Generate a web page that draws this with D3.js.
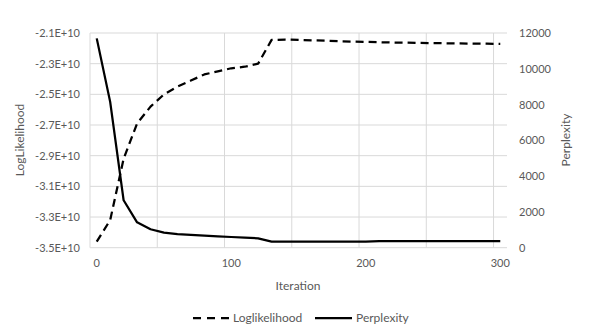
<!DOCTYPE html>
<html>
<head>
<meta charset="utf-8">
<script src="https://cdn.jsdelivr.net/npm/d3@7"></script>
<style>
  html, body { margin: 0; padding: 0; background: #fff; }
  svg { display: block; font-family: Lato, "Open Sans", sans-serif; }
</style>
</head>
<body>
<svg id="chart" width="601" height="336"></svg>
<script>
const iterations = [0, 10, 20, 30, 40, 50, 60, 70, 80, 90, 100, 110, 120, 130, 140, 150,
  160, 170, 180, 190, 200, 210, 220, 230, 240, 250, 260, 270, 280, 290, 300];
const logLikelihood = [-3.46e10, -3.32e10, -2.92e10, -2.69e10, -2.58e10, -2.50e10, -2.45e10,
  -2.41e10, -2.37e10, -2.35e10, -2.33e10, -2.32e10, -2.30e10, -2.145e10, -2.143e10, -2.145e10,
  -2.148e10, -2.150e10, -2.153e10, -2.156e10, -2.158e10, -2.160e10, -2.162e10, -2.163e10,
  -2.165e10, -2.166e10, -2.167e10, -2.168e10, -2.169e10, -2.170e10, -2.171e10];
const perplexity = [11700, 8150, 2650, 1420, 1030, 840, 760, 710, 676, 637, 598, 564, 525,
  335, 335, 335, 335, 335, 335, 335, 335, 370, 370, 370, 370, 370, 370, 370, 370, 370, 370];
const leftTicks = [-3.5e10, -3.3e10, -3.1e10, -2.9e10, -2.7e10, -2.5e10, -2.3e10, -2.1e10];
const rightTicks = [0, 2000, 4000, 6000, 8000, 10000, 12000];
const xLabelIters = [0, 100, 200, 300];
const gridIters = [0, 50, 100, 150, 200, 250, 300];
const seriesNames = ["Loglikelihood", "Perplexity"];

const svg = d3.select("#chart");
const pLeft = 90, pRight = 507, pTop = 33, pBottom = 247.7;
const textColor = "#595959", gridColor = "#d9d9d9";

const x = d3.scaleBand().domain(iterations).range([pLeft, pRight]).padding(0);
const yL = d3.scaleLinear().domain([-3.5e10, -2.1e10]).range([pBottom, pTop]);
const yR = d3.scaleLinear().domain([0, 12000]).range([pBottom, pTop]);

// horizontal gridlines
svg.append("g").selectAll("line").data(leftTicks).join("line")
  .attr("x1", pLeft).attr("x2", pRight)
  .attr("y1", d => yL(d)).attr("y2", d => yL(d))
  .attr("stroke", gridColor).attr("stroke-width", 1);
// vertical gridlines
svg.append("g").selectAll("line").data(gridIters).join("line")
  .attr("x1", d => x(d)).attr("x2", d => x(d))
  .attr("y1", pTop).attr("y2", pBottom)
  .attr("stroke", gridColor).attr("stroke-width", 1);

// left axis
const fmtL = d => (d / 1e10).toFixed(1) + "E+10";
const gL = svg.append("g").attr("transform", `translate(${pLeft - 10},0)`)
  .call(d3.axisLeft(yL).tickValues(leftTicks).tickFormat(fmtL).tickSize(0).tickPadding(0));
gL.select(".domain").remove();
gL.selectAll("text").attr("fill", textColor).style("font-size", "11px").style("font-family", "Lato");

// right axis
const gR = svg.append("g").attr("transform", `translate(${pRight + 12},0)`)
  .call(d3.axisRight(yR).tickValues(rightTicks).tickFormat(d3.format("d")).tickSize(0).tickPadding(0));
gR.select(".domain").remove();
gR.selectAll("text").attr("fill", textColor).style("font-size", "11px").style("font-family", "Lato");

// bottom axis
const gB = svg.append("g").attr("transform", `translate(0,${pBottom + 11})`)
  .call(d3.axisBottom(x).tickValues(xLabelIters).tickSize(0).tickPadding(0));
gB.select(".domain").remove();
gB.selectAll("text").attr("fill", textColor).style("font-size", "11px").style("font-family", "Lato");

// axis titles
svg.append("text").attr("transform", "translate(24,140) rotate(-90)")
  .attr("text-anchor", "middle").attr("fill", textColor)
  .style("font-size", "12px").text("LogLikelihood");
svg.append("text").attr("transform", "translate(570,140) rotate(-90)")
  .attr("text-anchor", "middle").attr("fill", textColor)
  .style("font-size", "12px").text("Perplexity");
svg.append("text").attr("x", 298).attr("y", 290)
  .attr("text-anchor", "middle").attr("fill", textColor)
  .style("font-size", "12px").text("Iteration");

// lines
const cx = d => x(d) + x.bandwidth() / 2;
const lineL = d3.line().x((d, i) => cx(iterations[i])).y(d => yL(d));
const lineR = d3.line().x((d, i) => cx(iterations[i])).y(d => yR(d));
svg.append("path").datum(logLikelihood).attr("d", lineL)
  .attr("fill", "none").attr("stroke", "#000").attr("stroke-width", 2.25)
  .attr("stroke-dasharray", "8,5").attr("stroke-linejoin", "round");
svg.append("path").datum(perplexity).attr("d", lineR)
  .attr("fill", "none").attr("stroke", "#000").attr("stroke-width", 2.25)
  .attr("stroke-linejoin", "round");

// legend
const ly = 318;
const legend = svg.append("g");
legend.append("line").attr("x1", 193).attr("x2", 230).attr("y1", ly).attr("y2", ly)
  .attr("stroke", "#000").attr("stroke-width", 2.25).attr("stroke-dasharray", "8,6");
legend.append("text").attr("x", 233).attr("y", ly + 4).attr("fill", textColor)
  .style("font-size", "12px").text(seriesNames[0]);
legend.append("line").attr("x1", 315).attr("x2", 352).attr("y1", ly).attr("y2", ly)
  .attr("stroke", "#000").attr("stroke-width", 2.25);
legend.append("text").attr("x", 356).attr("y", ly + 4).attr("fill", textColor)
  .style("font-size", "12px").text(seriesNames[1]);
</script>
</body>
</html>
